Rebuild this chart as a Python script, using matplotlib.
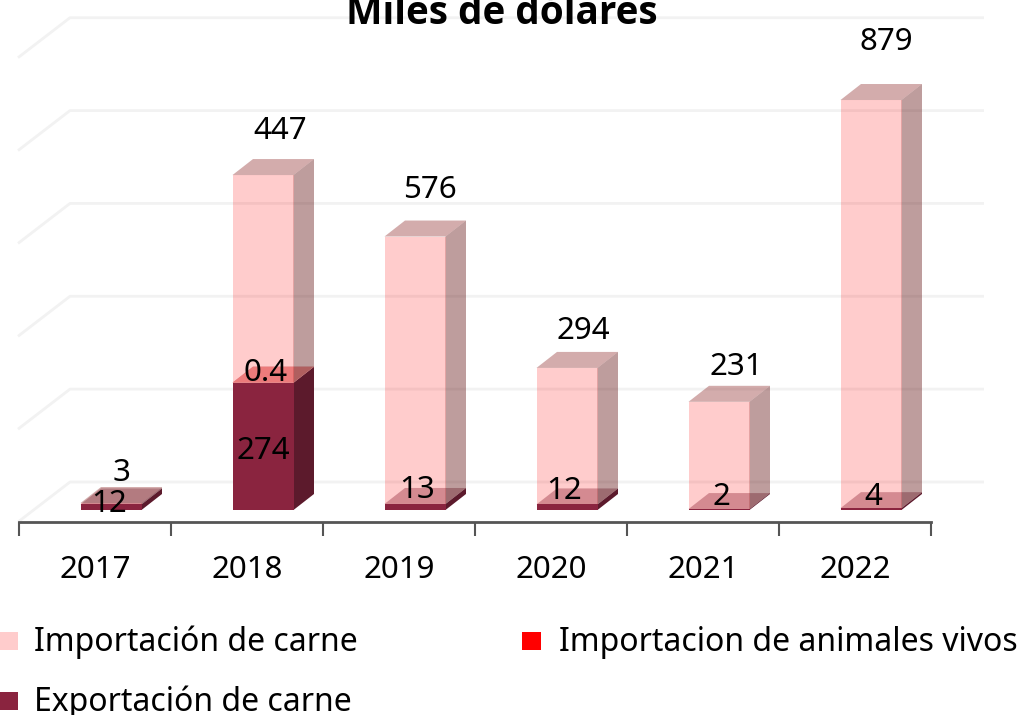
## Stacked pseudo-3D columns, miles de dolares
import matplotlib.pyplot as pl
from matplotlib.patches import Polygon, Rectangle

years = ['2017', '2018', '2019', '2020', '2021', '2022']
import_carne = [3, 447, 576, 294, 231, 879]
import_vivos = [0, 0.4, 0, 0, 0, 0]
export_carne = [12, 274, 13, 12, 2, 4]
grid_vals = [0, 200, 400, 600, 800, 1000]

W, H = 1021, 715
PX_PER_UNIT = 0.4643   # pixels per thousand
CAT_W = 152.0          # pixels per category
X0, Y0 = 19.0, 510.0   # pixel position of category 0 / value 0

pl.rcParams['font.family'] = ['Noto Sans', 'DejaVu Sans']

fig = pl.figure(figsize=(W / 100, H / 100), dpi=100)
ax = fig.add_axes((0, 0, 1, 1))
ax.set_xlim(-X0 / CAT_W, (W - X0) / CAT_W)
ax.set_ylim((Y0 - H) / PX_PER_UNIT, Y0 / PX_PER_UNIT)

# bar shape, in axis units
bar_off = 61.5 / CAT_W
bar_w = 61 / CAT_W
dep_x = 20.5 / CAT_W
dep_y = 16 / PX_PER_UNIT
# back wall sits behind the bars
wall_x = (70 - X0) / CAT_W
wall_end = (984 - X0) / CAT_W
wall_y = 28 / PX_PER_UNIT
floor_x = -1 / CAT_W
floor_y = -40 / PX_PER_UNIT

for v in grid_vals:
    ax.plot([floor_x, wall_x, wall_end], [v + wall_y + floor_y, v + wall_y, v + wall_y],
            color='#f2f2f2', lw=2, zorder=1, solid_capstyle='butt')


def box(i, lo, hi, front, side, top):
    x = i + bar_off
    ax.add_patch(Polygon([(x + bar_w, lo), (x + bar_w + dep_x, lo + dep_y),
                          (x + bar_w + dep_x, hi + dep_y), (x + bar_w, hi)],
                         fc=side, ec='none', zorder=3))
    ax.add_patch(Polygon([(x, hi), (x + dep_x, hi + dep_y),
                          (x + bar_w + dep_x, hi + dep_y), (x + bar_w, hi)],
                         fc=top, ec='none', zorder=3))
    ax.add_patch(Rectangle((x, lo), bar_w, hi - lo, fc=front, ec='none', zorder=3))


DARK = ('#8a243f', '#5c1a2c', (110 / 255, 30 / 255, 55 / 255, 0.36))
RED = ('#ff0000', '#aa0000', '#e89a9a')
PINK = ((1, 0, 0, 0.2), (87 / 255, 2 / 255, 2 / 255, 0.385), (145 / 255, 48 / 255, 48 / 255, 0.4))

for i in range(len(years)):
    a = export_carne[i]
    b = a + import_vivos[i]
    c = b + import_carne[i]
    box(i, 0, a, *DARK)
    if import_vivos[i] > 0:
        box(i, a, b, *RED)
    box(i, b, c, *PINK)

# data labels, offsets in pixels from the anchor on each column
off_pink = [(10, 34), (17, 48), (15, 50), (16, 40), (17, 38), (15, 62)]
off_dark = [(-2, 7), (0, -1), (2, 20), (-3, 20), (2, 16), (2, 16)]
off_red = (3, 13)


def lab(text, i, y, off):
    ax.annotate(text, (i + bar_off + bar_w / 2, y), xytext=off, textcoords='offset pixels',
                ha='center', va='center_baseline', fontsize=22.5, color='black', zorder=5)


for i in range(len(years)):
    a = export_carne[i]
    b = a + import_vivos[i]
    lab(str(import_carne[i]), i, b + import_carne[i], off_pink[i])
    lab(str(a), i, a / 2, off_dark[i])
    if import_vivos[i] > 0:
        lab(str(import_vivos[i]), i, b, off_red)

# x axis: edges carry the ticks, centres the labels
for s in ['top', 'left', 'right']:
    ax.spines[s].set_visible(False)
ax.spines['bottom'].set_position(('data', (Y0 - 522) / PX_PER_UNIT))
ax.spines['bottom'].set_bounds(0, len(years))
ax.spines['bottom'].set_color('#555555')
ax.spines['bottom'].set_linewidth(2)
ax.set_yticks([])
ax.set_xticks(range(len(years) + 1))
ax.set_xticklabels([])
ax.tick_params(axis='x', which='major', length=10, width=1.5, color='#555555')
ax.set_xticks([i + 0.5 for i in range(len(years))], minor=True)
ax.set_xticklabels(years, minor=True, fontsize=22.5)
ax.tick_params(axis='x', which='minor', length=0, pad=24)

fig.text(502 / W, 1 - 24 / H, 'Miles de dólares', ha='center', va='baseline',
         fontsize=27.8, fontweight='bold', family=['Open Sans', 'Noto Sans'], color='black')

# legend
legend_items = [('Importación de carne', '#ffcccc', 0, 632),
                ('Importacion de animales vivos', '#ff0000', 523, 632),
                ('Exportación de carne', '#8a243f', 0, 692)]
for name, col, lx, ly in legend_items:
    fig.patches.append(Rectangle(((lx - 1) / W, 1 - (ly + 18) / H), 19 / W, 18 / H, fc=col, ec='none',
                                 transform=fig.transFigure, figure=fig))
    fig.text((lx + 34 + (2 if lx else 0)) / W, 1 - (ly + 19) / H, name, ha='left', va='baseline',
             fontsize=23, color='black')

pl.savefig('out.png', dpi=100)
